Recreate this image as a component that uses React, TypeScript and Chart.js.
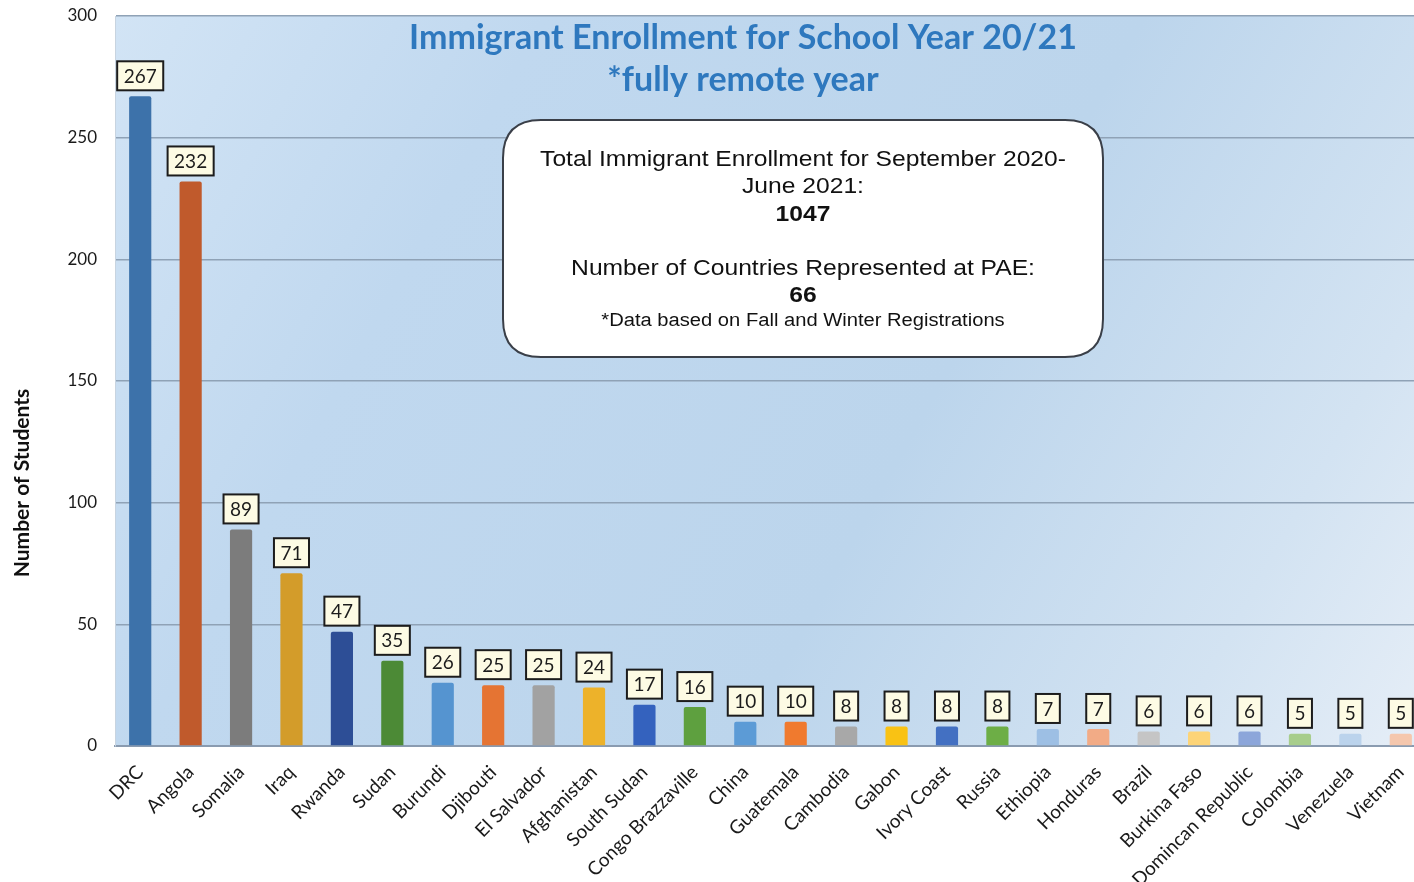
import React, { useEffect, useRef } from "react";
import { Chart, registerables } from "chart.js";

Chart.register(...registerables);

const categories = [
  "DRC", "Angola", "Somalia", "Iraq", "Rwanda", "Sudan", "Burundi", "Djibouti",
  "El Salvador", "Afghanistan", "South Sudan", "Congo Brazzaville", "China",
  "Guatemala", "Cambodia", "Gabon", "Ivory Coast", "Russia", "Ethiopia",
  "Honduras", "Brazil", "Burkina Faso", "Domincan Republic", "Colombia",
  "Venezuela", "Vietnam",
];
const students = [267, 232, 89, 71, 47, 35, 26, 25, 25, 24, 17, 16, 10, 10, 8, 8, 8, 8, 7, 7, 6, 6, 6, 5, 5, 5];
const barColors = [
  "#3D72AA", "#C05A2C", "#7C7C7C", "#D39C2A", "#2D4E96", "#4C8A36", "#5594D0", "#E57433",
  "#A2A2A2", "#EDB22A", "#3462BE", "#5EA03F", "#5C9BD6", "#F07A2E", "#A8A8A8", "#F9C214",
  "#4370C2", "#6DAE46", "#9DBFE4", "#F2AB86", "#C5C5C5", "#FDD477", "#8CA6DA", "#A7CD8C",
  "#BBD3EC", "#F5C7AD",
];
const yTickValues = [0, 50, 100, 150, 200, 250, 300];
const titleLines = ["Immigrant Enrollment for School Year 20/21", "*fully remote year"];
const yAxisTitle = "Number of Students";
const boxLines = [
  { text: "Total Immigrant Enrollment for September 2020-", bold: false, size: 22 },
  { text: "June 2021:", bold: false, size: 22 },
  { text: "1047", bold: true, size: 22 },
  { text: "", bold: false, size: 22 },
  { text: "Number of Countries Represented at PAE:", bold: false, size: 22 },
  { text: "66", bold: true, size: 22 },
  { text: "*Data based on Fall and Winter Registrations", bold: false, size: 18 },
];

const decorPlugin = {
  id: "decor",
  beforeDraw(chart: any) {
    const { ctx, chartArea: a, width, height } = chart;
    ctx.save();
    ctx.fillStyle = "#ffffff";
    ctx.fillRect(0, 0, width, height);
    const g = ctx.createLinearGradient(a.left, a.top, a.right, a.bottom);
    g.addColorStop(0, "#d2e4f5");
    g.addColorStop(0.25, "#c0d8ef");
    g.addColorStop(0.6, "#bcd5ec");
    g.addColorStop(0.85, "#d3e3f2");
    g.addColorStop(1, "#e6eef7");
    ctx.fillStyle = g;
    ctx.fillRect(a.left, a.top, a.right - a.left, a.bottom - a.top);
    ctx.restore();
  },
  afterDatasetsDraw(chart: any) {
    const { ctx } = chart;
    ctx.save();
    // value labels
    const meta = chart.getDatasetMeta(0);
    ctx.font = "19px Lato";
    ctx.textAlign = "center";
    ctx.textBaseline = "middle";
    meta.data.forEach((el: any, i: number) => {
      const t = String(students[i]);
      const w = ctx.measureText(t).width + 13;
      const h = 29;
      const bx = el.x - w / 2;
      const by = el.y - 6 - h;
      ctx.fillStyle = "#fdfbe4";
      ctx.fillRect(bx, by, w, h);
      ctx.strokeStyle = "#1c1c1c";
      ctx.lineWidth = 2;
      ctx.strokeRect(bx, by, w, h);
      ctx.fillStyle = "#1c1c1c";
      ctx.fillText(t, el.x, by + h / 2 + 1);
    });

    // title
    ctx.fillStyle = "#2E78BE";
    ctx.font = "bold 34px Lato";
    ctx.fillText(titleLines[0], 743, 38);
    ctx.fillText(titleLines[1], 743, 80);

    // info box
    const x0 = 503, y0 = 120, x1 = 1103, y1 = 357, r = 38;
    ctx.beginPath();
    ctx.moveTo(x0 + r, y0);
    ctx.lineTo(x1 - r, y0);
    ctx.quadraticCurveTo(x1, y0, x1, y0 + r);
    ctx.lineTo(x1, y1 - r);
    ctx.quadraticCurveTo(x1, y1, x1 - r, y1);
    ctx.lineTo(x0 + r, y1);
    ctx.quadraticCurveTo(x0, y1, x0, y1 - r);
    ctx.lineTo(x0, y0 + r);
    ctx.quadraticCurveTo(x0, y0, x0 + r, y0);
    ctx.closePath();
    ctx.fillStyle = "#ffffff";
    ctx.fill();
    ctx.strokeStyle = "#3a3f48";
    ctx.lineWidth = 2;
    ctx.stroke();
    const ys = [160, 187, 215, 242, 269, 296, 321];
    boxLines.forEach((l, i) => {
      if (!l.text) return;
      ctx.save();
      ctx.translate(803, ys[i]);
      ctx.scale(1.12, 1);
      ctx.font = `${l.bold ? "bold " : ""}${l.size}px "Liberation Sans", Arial`;
      ctx.fillStyle = "#111111";
      ctx.fillText(l.text, 0, 0);
      ctx.restore();
    });

    // y axis title
    ctx.translate(22, 483);
    ctx.rotate(-Math.PI / 2);
    ctx.font = "bold 21px Lato";
    ctx.fillStyle = "#111111";
    ctx.fillText(yAxisTitle, 0, 0);
    ctx.restore();
  },
};

export default function App() {
  const ref = useRef<HTMLCanvasElement | null>(null);
  useEffect(() => {
    if (!ref.current) return;
    const chart = new Chart(ref.current, {
      type: "bar",
      data: {
        labels: categories,
        datasets: [
          {
            data: students,
            backgroundColor: barColors,
            borderWidth: 0,
            borderRadius: 2,
            barPercentage: 0.44,
            categoryPercentage: 1,
          },
        ],
      },
      options: {
        responsive: false,
        animation: false,
        devicePixelRatio: 1,
        layout: { padding: { top: 16, left: 0, right: 0, bottom: 0 } },
        plugins: { legend: { display: false }, tooltip: { enabled: false }, title: { display: false } },
        scales: {
          x: {
            grid: { display: false },
            border: { color: "#8a9bb0", width: 2 },
            ticks: {
              autoSkip: false,
              minRotation: 45,
              maxRotation: 45,
              padding: 7,
              color: "#1a1a1a",
              font: { family: "Lato", size: 19 },
            },
            afterFit: (s: any) => {
              s.height = 136;
              s.paddingTop = 0;
              s.paddingBottom = 0;
              s.paddingLeft = 0;
              s.paddingRight = 0;
            },
          },
          y: {
            min: 0,
            max: 300,
            afterBuildTicks: (s: any) => {
              s.ticks = yTickValues.map((v) => ({ value: v }));
            },
            ticks: { padding: 18, color: "#1a1a1a", font: { family: "Lato", size: 17 } },
            grid: { color: "#8fa2b6", drawTicks: false, lineWidth: 1.5 },
            border: { display: true, color: "#c8d4e0" },
            afterFit: (s: any) => {
              s.width = 115;
              s.paddingTop = 0;
              s.paddingBottom = 0;
              s.paddingLeft = 0;
              s.paddingRight = 0;
            },
          },
        },
      },
      plugins: [decorPlugin],
    });
    return () => chart.destroy();
  }, []);
  return (
    <div style={{ position: "absolute", left: 0, top: 0, width: 1414, height: 882, overflow: "hidden", background: "#fff" }}>
      <canvas ref={ref} width={1426} height={882} style={{ width: 1426, height: 882, display: "block" }} />
    </div>
  );
}
